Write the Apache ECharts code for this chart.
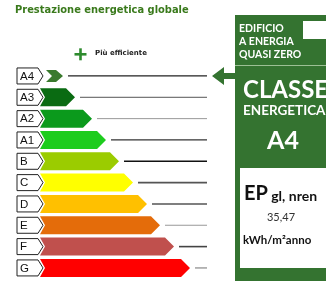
<!DOCTYPE html>
<html>
<head>
<meta charset="utf-8">
<script src="https://cdn.jsdelivr.net/npm/echarts@6/dist/echarts.min.js"></script>
<style>
html, body { margin: 0; padding: 0; background: #fff; }
#chart { width: 326px; height: 282px; }
</style>
</head>
<body>
<div id="chart"></div>
<script>
// energy classes, top (best) to bottom (worst)
const classes = ['A4', 'A3', 'A2', 'A1', 'B', 'C', 'D', 'E', 'F', 'G'];
// arrow length of each class bar
const barLengths = [23, 35, 52, 66, 79, 93, 107, 120, 134, 150];
const barColors = ['#3a7a2e', '#0a6b12', '#0b9a1c', '#1dcc1d', '#9bcc00', '#ffff00', '#ffc000', '#e46c0a', '#c0504d', '#ff0000'];
const lineColors = ['#222', '#555', '#999', '#333', '#111', '#555', '#555', '#999', '#444', '#999'];
const lineWidths = [1.3, 1, 1, 1.3, 1.6, 1.6, 1.6, 1.1, 1.6, 1.4];
const xMax = 167;

const currentClass = 'A4';
const epLabel = 'EP';
const epSub = 'gl, nren';
const epValue = '35,47';
const epUnit = 'kWh/m²anno';

const panelGreen = '#347330';

const chart = echarts.init(document.getElementById('chart'), null, { renderer: 'canvas' });

function renderRow(params, api) {
    const i = api.value(1);
    const len = api.value(0);
    const start = api.coord([0, i]);
    const end = api.coord([len, i]);
    const axisEnd = api.coord([xMax, i]);
    const x0 = start[0];
    const y = start[1];
    const tip = end[0];
    let pts;
    if (i === 0) {
        // best class is drawn as a single chevron
        const l = x0 + 6;
        pts = [[l, y - 6], [tip - 7, y - 6], [tip, y], [tip - 7, y + 6], [l, y + 6], [l + 6, y]];
    } else {
        pts = [[x0, y - 9], [tip - 9, y - 9], [tip, y], [tip - 9, y + 9], [x0, y + 9], [x0 + 5, y]];
    }
    return {
        type: 'group',
        children: [
            {
                type: 'polygon',
                shape: { points: pts },
                style: { fill: barColors[i] }
            },
            {
                type: 'polygon',
                shape: { points: [[x0 - 23, y - 8], [x0 - 2, y - 8], [x0 + 3, y], [x0 - 2, y + 8], [x0 - 23, y + 8]] },
                style: { fill: '#fff', stroke: '#222', lineWidth: 1 }
            },
            {
                type: 'text',
                x: x0 - 20,
                y: y + 0.5,
                style: {
                    text: classes[i],
                    fill: '#111',
                    font: '11.5px "Liberation Sans", Arial, sans-serif',
                    verticalAlign: 'middle'
                }
            },
            {
                type: 'line',
                shape: { x1: tip + 5, y1: y, x2: axisEnd[0], y2: y },
                style: { stroke: lineColors[i], lineWidth: lineWidths[i] }
            }
        ]
    };
}

const option = {
    animation: false,
    backgroundColor: '#fff',
    grid: { left: 40, width: xMax, top: 65.3, height: 213.3 },
    xAxis: { type: 'value', min: 0, max: xMax, show: false },
    yAxis: { type: 'category', data: classes, inverse: true, show: false },
    series: [{
        type: 'custom',
        renderItem: renderRow,
        encode: { x: 0, y: 1 },
        data: barLengths.map((v, i) => [v, i]),
        silent: true
    }],
    graphic: [
        {
            type: 'text', left: 15, top: 5,
            style: { text: 'Prestazione energetica globale', fill: '#3a7a1c', font: 'bold 11px "DejaVu Sans Condensed", "DejaVu Sans", sans-serif' }
        },
        { type: 'rect', shape: { x: 74.5, y: 53, width: 12, height: 2.6 }, style: { fill: '#2e8b2e' } },
        { type: 'rect', shape: { x: 79.2, y: 48.3, width: 2.6, height: 12 }, style: { fill: '#2e8b2e' } },
        {
            type: 'text', left: 95, top: 50,
            style: { text: 'Più efficiente', fill: '#222', font: 'bold 7px "DejaVu Sans", sans-serif' }
        },
        // class panel
        { type: 'rect', shape: { x: 235, y: 15, width: 100, height: 266 }, style: { fill: panelGreen } },
        { type: 'line', shape: { x1: 235, y1: 65.5, x2: 326, y2: 65.5 }, style: { stroke: '#9cc094', lineWidth: 1 } },
        { type: 'rect', shape: { x: 303, y: 21, width: 30, height: 18 }, style: { fill: '#fff' } },
        {
            type: 'text', left: 239, top: 22.5,
            style: { text: 'EDIFICIO\nA ENERGIA\nQUASI ZERO', fill: '#fff', font: 'bold 10.5px Lato, sans-serif', lineHeight: 12.8 }
        },
        {
            type: 'polygon',
            shape: { points: [[212, 76], [224, 67], [224, 73], [236, 73], [236, 79], [224, 79], [224, 85]] },
            style: { fill: panelGreen }
        },
        {
            type: 'text', left: 243, top: 78,
            style: { text: 'CLASSE', fill: '#fff', font: 'bold 24px Lato, sans-serif' }
        },
        {
            type: 'text', left: 243, top: 104,
            style: { text: 'ENERGETICA', fill: '#fff', font: 'bold 13.5px Lato, sans-serif' }
        },
        {
            type: 'text', x: 283, y: 141,
            style: { text: currentClass, fill: '#fff', font: 'bold 25px Lato, sans-serif', align: 'center', verticalAlign: 'middle' }
        },
        { type: 'rect', shape: { x: 240, y: 168, width: 100, height: 100 }, style: { fill: '#fff' } },
        {
            type: 'text', x: 244, y: 194,
            style: {
                text: '{a|' + epLabel + '} {b|' + epSub + '}',
                verticalAlign: 'middle',
                rich: {
                    a: { font: 'bold 20px Lato, sans-serif', fill: '#111' },
                    b: { font: 'bold 14px Lato, sans-serif', fill: '#111', padding: [4, 0, 0, 0] }
                }
            }
        },
        {
            type: 'text', x: 281, y: 217,
            style: { text: epValue, fill: '#333', font: '11px Lato, sans-serif', align: 'center', verticalAlign: 'middle' }
        },
        {
            type: 'text', x: 243, y: 240,
            style: { text: epUnit, fill: '#111', font: 'bold 11.5px Lato, sans-serif', verticalAlign: 'middle' }
        }
    ]
};

chart.setOption(option);
window.addEventListener('resize', () => chart.resize());
</script>
</body>
</html>
